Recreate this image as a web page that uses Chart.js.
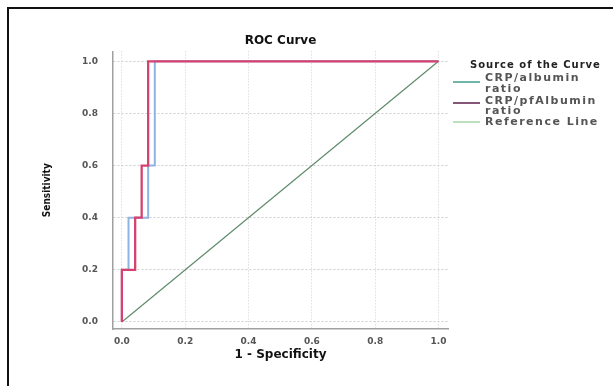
<!DOCTYPE html>
<html>
<head>
<meta charset="utf-8">
<script src="https://cdn.jsdelivr.net/npm/chart.js@4"></script>
<style>
  html, body { margin: 0; padding: 0; background: #fff; }
  #frame {
    position: absolute; left: 7px; top: 7px; width: 606px; height: 379px;
    border-top: 2px solid #111; border-left: 2px solid #111;
  }
  #wrap { position: absolute; left: 9px; top: 9px; width: 604px; height: 377px; }
</style>
</head>
<body>
<div id="frame"></div>
<div id="wrap"><canvas id="roc"></canvas></div>
<script>
// ROC 数据
const tickValues = [0, 0.2, 0.4, 0.6, 0.8, 1.0];
const albuminFpr = [0, 0, 0.021, 0.021, 0.083, 0.083, 0.104, 0.104, 1];
const albuminTpr = [0, 0.2, 0.2, 0.4, 0.4, 0.6, 0.6, 1, 1];
const pfAlbuminFpr = [0, 0, 0.042, 0.042, 0.0625, 0.0625, 0.083, 0.083, 1];
const pfAlbuminTpr = [0, 0.2, 0.2, 0.4, 0.4, 0.6, 0.6, 1, 1];
const refFpr = [0, 1];
const refTpr = [0, 1];
const legendTitle = 'Source of the Curve';
const legendNames = [['CRP/albumin', 'ratio'], ['CRP/pfAlbumin', 'ratio'], ['Reference Line']];
const legendColors = ['#3f9e8c', '#5b1f4c', '#a6d6a6'];

const toPoints = (xs, ys) => xs.map((x, i) => ({ x: x, y: ys[i] }));
const fixedTicks = (scale) => { scale.ticks = tickValues.map(v => ({ value: v })); };

// 右侧图例（SPSS 风格）
const sideLegend = {
  id: 'sideLegend',
  afterDraw(chart) {
    const ctx = chart.ctx;
    ctx.save();
    ctx.textBaseline = 'middle';
    ctx.fillStyle = '#222';
    ctx.font = 'bold 10px "DejaVu Sans", sans-serif';
    ctx.letterSpacing = '1px';
    ctx.fillText(legendTitle, 461, 56);
    const rows = [[69, 80], [92, 102], [113]];
    const lineY = [73, 94, 113];
    ctx.font = '600 11px "DejaVu Sans", sans-serif';
    ctx.letterSpacing = '1.5px';
    legendNames.forEach((lines, i) => {
      ctx.strokeStyle = legendColors[i];
      ctx.lineWidth = 1.5;
      ctx.beginPath();
      ctx.moveTo(444, lineY[i]);
      ctx.lineTo(471, lineY[i]);
      ctx.stroke();
      ctx.fillStyle = '#555';
      lines.forEach((t, j) => ctx.fillText(t, 476, rows[i][j]));
    });
    ctx.restore();
  }
};

new Chart(document.getElementById('roc'), {
  type: 'line',
  data: {
    datasets: [
      { label: 'Reference Line', data: toPoints(refFpr, refTpr), borderColor: '#5e8c6c', borderWidth: 1.2, pointRadius: 0, order: 3 },
      { label: 'CRP/albumin ratio', data: toPoints(albuminFpr, albuminTpr), borderColor: '#8fb3e2', borderWidth: 2, pointRadius: 0, order: 2 },
      { label: 'CRP/pfAlbumin ratio', data: toPoints(pfAlbuminFpr, pfAlbuminTpr), borderColor: '#d6426f', borderWidth: 2.3, pointRadius: 0, order: 1 }
    ]
  },
  options: {
    responsive: true,
    maintainAspectRatio: false,
    animation: false,
    layout: { padding: { left: 32, right: 165, top: 0, bottom: 0 } },
    plugins: {
      legend: { display: false },
      tooltip: { enabled: false },
      title: {
        display: true,
        text: 'ROC Curve',
        fullSize: false,
        color: '#111',
        font: { family: '"DejaVu Sans", sans-serif', size: 12, weight: 'bold' },
        padding: { top: 25, bottom: 3 }
      }
    },
    scales: {
      x: {
        type: 'linear',
        min: -0.028,
        max: 1.03,
        afterBuildTicks: fixedTicks,
        afterFit: (s) => { s.height = 57; },
        grid: { color: '#cfcfcf', drawTicks: false },
        border: { display: true, color: '#a0a0a0', width: 1.5, dash: [1, 2] },
        ticks: {
          padding: 7,
          color: '#555',
          font: { family: '"DejaVu Sans", sans-serif', size: 9, weight: 'bold' },
          callback: (v) => v.toFixed(1)
        },
        title: {
          display: true,
          text: '1 - Specificity',
          color: '#111',
          font: { family: '"DejaVu Sans", sans-serif', size: 12, weight: 'bold' },
          padding: { top: 0, bottom: 24 }
        }
      },
      y: {
        type: 'linear',
        min: -0.027,
        max: 1.038,
        afterBuildTicks: fixedTicks,
        afterFit: (s) => { s.width = 72; },
        grid: { color: '#cfcfcf', drawTicks: false },
        border: { display: true, color: '#a0a0a0', width: 1.5, dash: [2, 2] },
        ticks: {
          padding: 15,
          color: '#555',
          font: { family: '"DejaVu Sans", sans-serif', size: 9, weight: 'bold' },
          callback: (v) => v.toFixed(1)
        },
        title: {
          display: true,
          text: 'Sensitivity',
          color: '#111',
          font: { family: '"DejaVu Sans Condensed", "DejaVu Sans", sans-serif', size: 10, weight: 'bold' },
          padding: { top: 0, bottom: 0 }
        }
      }
    }
  },
  plugins: [sideLegend]
});
</script>
</body>
</html>
